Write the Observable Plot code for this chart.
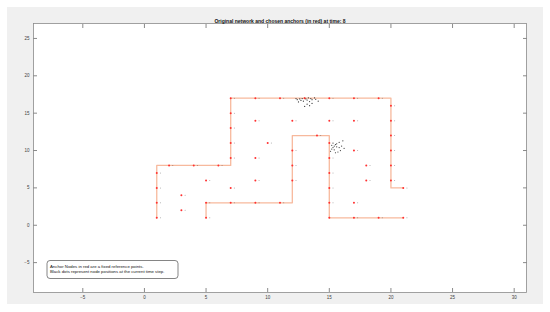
<!DOCTYPE html>
<html>
<head>
<meta charset="utf-8">
<script src="https://cdn.jsdelivr.net/npm/d3@7"></script>
<script src="https://cdn.jsdelivr.net/npm/@observablehq/plot@0.6"></script>
<style>
  html, body { margin: 0; padding: 0; background: #ffffff; }
  #wrap { position: relative; width: 550px; height: 312px; overflow: hidden; }
  #bg { position: absolute; left: 7px; top: 7px; width: 536px; height: 297px; background: #f0f0f0; }
  #chart { position: absolute; left: 0; top: 0; }
  #chart svg { display: block; }
</style>
</head>
<body>
<div id="wrap"><div id="bg"></div><div id="chart"></div></div>
<script>
const titleText = "Original network and chosen anchors (in red) at time: 8";
const legendLines = [
  "Anchor Nodes in red are a fixed reference points.",
  "Black dots represent node positions at the current time step."
];
const xTicks = [-5, 0, 5, 10, 15, 20, 25, 30];
const yTicks = [-5, 0, 5, 10, 15, 20, 25];

// wall polylines (x, y)
const outerWallX = [1, 1, 7, 7, 20, 20, 21];
const outerWallY = [1, 8, 8, 17, 17, 5, 5];
const innerWallX = [5, 5, 12, 12, 15, 15, 21];
const innerWallY = [1, 3, 3, 12, 12, 1, 1];

// anchor nodes (red)
const anchorX = [1, 1, 1, 1, 2, 4, 6, 7, 7, 7, 7, 7, 9, 11, 13, 15, 17, 19, 20, 20, 20, 20, 20, 20, 21,
                 5, 5, 7, 9, 11, 12, 12, 12, 14, 15, 15, 15, 15, 15, 15, 17, 19, 21,
                 3, 3, 5, 7, 9, 9, 10, 9, 12, 15, 17, 17, 18, 18, 17];
const anchorY = [1, 3, 5, 7, 8, 8, 8, 9, 11, 13, 15, 17, 17, 17, 17, 17, 17, 17, 16, 14, 12, 10, 8, 6, 5,
                 1, 3, 3, 3, 3, 6, 8, 10, 12, 11, 9, 7, 5, 3, 1, 1, 1, 1,
                 2, 4, 6, 5, 6, 9, 11, 14, 14, 14, 14, 10, 8, 6, 3];

// node positions near anchors (faint black dots)
const nearNodeX = [1.3, 1.3, 1.3, 1.3, 2.3, 4.3, 6.3, 7.3, 7.3, 7.3, 7.3, 7.3, 9.3, 11.3, 15.3, 17.3, 19.3, 20.3, 20.3, 20.3, 20.3, 20.3, 20.3, 21.3,
                   5.3, 5.3, 7.3, 9.3, 11.3, 12.3, 12.3, 12.3, 14.3, 15.3, 15.3, 15.3, 15.3, 17.3, 19.3, 21.3,
                   3.3, 3.3, 5.3, 7.3, 9.3, 9.3, 10.3, 9.3, 12.3, 15.3, 17.3, 17.3, 18.3, 18.3, 17.3];
const nearNodeY = [1.0, 3.0, 5.0, 7.0, 8.0, 8.0, 8.0, 9.0, 11.0, 13.0, 15.0, 17.0, 17.0, 17.0, 17.0, 17.0, 17.0, 16.0, 14.0, 12.0, 10.0, 8.0, 6.0, 5.0,
                   1.0, 3.0, 3.0, 3.0, 3.0, 6.0, 8.0, 10.0, 12.0, 9.0, 7.0, 5.0, 3.0, 1.0, 1.0, 1.0,
                   2.0, 4.0, 6.0, 5.0, 6.0, 9.0, 11.0, 14.0, 14.0, 14.0, 14.0, 10.0, 8.0, 6.0, 3.0];
// clustered node positions (black dots)
const clusterX = [12.6, 12.8, 13.0, 13.1, 13.3, 13.5, 12.4, 12.7, 13.2, 13.6, 13.9, 12.5, 12.9, 13.4, 14.1, 13.2, 13.6, 13.0, 13.4, 12.3, 13.8,
                  15.1, 15.2, 15.3, 15.4, 15.5, 15.6, 15.8, 16.1, 15.2, 15.4, 15.6, 15.8, 16.0, 15.9, 15.5, 16.2, 15.3, 15.7];
const clusterY = [16.9, 16.95, 17.0, 16.9, 17.05, 16.95, 16.8, 16.7, 16.75, 16.8, 16.85, 16.5, 16.6, 16.55, 16.6, 16.2, 16.3, 15.9, 16.0, 16.95, 17.05,
                  9.9, 10.2, 10.4, 10.6, 10.8, 10.9, 11.1, 11.3, 10.7, 10.1, 10.5, 10.4, 10.6, 10.0, 9.7, 10.3, 11.0, 9.8];

const walls = [
  ...outerWallX.map((x, i) => ({x, y: outerWallY[i], wall: "outer"})),
  ...innerWallX.map((x, i) => ({x, y: innerWallY[i], wall: "inner"}))
];
const anchors = anchorX.map((x, i) => ({x, y: anchorY[i]}));
const nearNodes = nearNodeX.map((x, i) => ({x, y: nearNodeY[i]}));
const clusterNodes = clusterX.map((x, i) => ({x, y: clusterY[i]}));

const font = "'Liberation Sans', Arial, Helvetica, sans-serif";
const axisColor = "#8a8a8a";

const plot = Plot.plot({
  width: 550,
  height: 312,
  marginLeft: 33,
  marginRight: 24,
  marginTop: 23,
  marginBottom: 20,
  x: {domain: [-9, 31], label: null},
  y: {domain: [-9, 27], label: null},
  style: {background: "transparent", fontFamily: font, fontSize: "4.5px", color: "#404040"},
  marks: [
    Plot.frame({fill: "white", stroke: "none"}),
    Plot.line(walls, {x: "x", y: "y", z: "wall", stroke: "#f6ad8c", strokeWidth: 1.3, strokeOpacity: 0.85}),
    Plot.dot(nearNodes, {x: "x", y: "y", r: 0.5, fill: "#333", stroke: "none", fillOpacity: 0.45}),
    Plot.dot(clusterNodes, {x: "x", y: "y", r: 0.6, fill: "#111", stroke: "none", fillOpacity: 0.85}),
    Plot.dot(anchors, {x: "x", y: "y", r: 1.0, fill: "#ff3030", stroke: "none"}),
    Plot.axisX(xTicks, {anchor: "bottom", tickSize: -4, stroke: axisColor, text: null, label: null}),
    Plot.axisX(xTicks, {anchor: "top", tickSize: -4, stroke: axisColor, text: null, label: null}),
    Plot.axisY(yTicks, {anchor: "left", tickSize: -4, stroke: axisColor, text: null, label: null}),
    Plot.axisY(yTicks, {anchor: "right", tickSize: -4, stroke: axisColor, text: null, label: null}),
    Plot.axisX(xTicks, {anchor: "bottom", tickSize: 0, tickPadding: 3, label: null, fill: "#404040"}),
    Plot.axisY(yTicks, {anchor: "left", tickSize: 0, tickPadding: 4, label: null, fill: "#404040"}),
    Plot.frame({stroke: axisColor, strokeWidth: 0.8}),
    Plot.text([titleText], {frameAnchor: "top", dy: -4, fontWeight: "bold", fontSize: 5, fill: "#111"})
  ]
});

document.getElementById("chart").appendChild(plot);

// legend box
const svg = d3.select(plot);
const lg = svg.append("g").attr("text-anchor", "start");
lg.append("rect")
  .attr("x", 47).attr("y", 260.5).attr("width", 131).attr("height", 18)
  .attr("rx", 3).attr("ry", 3)
  .attr("fill", "white").attr("stroke", "#333").attr("stroke-width", 0.6);
legendLines.forEach((t, i) => {
  lg.append("text")
    .attr("x", 50).attr("y", 267.5 + i * 5.2)
    .attr("text-anchor", "start")
    .attr("font-family", font).attr("font-size", 4.3).attr("fill", "#111")
    .text(t);
});
</script>
</body>
</html>
